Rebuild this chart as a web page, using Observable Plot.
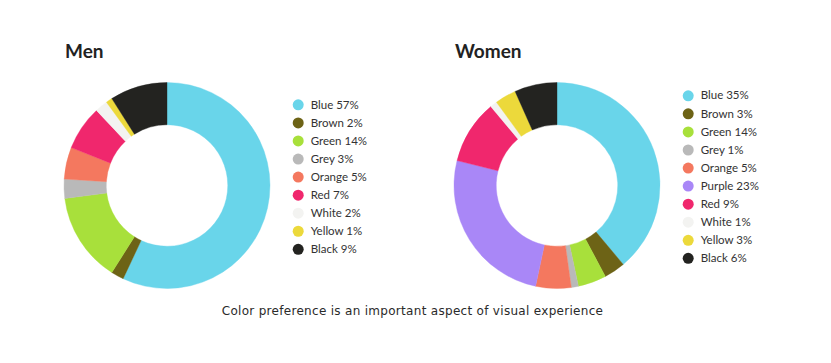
<!DOCTYPE html>
<html>
<head>
<meta charset="utf-8">
<script src="https://cdn.jsdelivr.net/npm/d3@7"></script>
<script src="https://cdn.jsdelivr.net/npm/@observablehq/plot@0.6"></script>
<style>
  html, body { margin: 0; padding: 0; background: #ffffff; }
  #wrap { position: relative; width: 831px; height: 363px; overflow: hidden; }
  .title { position: absolute; top: 41px; margin: 0; font: 700 19px Lato, sans-serif; line-height: 1; color: #222222; }
  .chart { position: absolute; top: 76px; }
  .caption { position: absolute; left: 0; width: 825px; top: 305px; text-align: center;
             font: 12px "DejaVu Sans", sans-serif; letter-spacing: 0.3px; line-height: 1; color: #2a2a2a; }
</style>
</head>
<body>
<div id="wrap">
  <div class="title" id="t1" style="left:65px"></div>
  <div class="title" id="t2" style="left:455px"></div>
  <div class="chart" id="c1" style="left:0px"></div>
  <div class="chart" id="c2" style="left:390px"></div>
  <div class="caption" id="cap"></div>
</div>
<script>
// ---- data ----
const colorNames = ["Blue", "Brown", "Green", "Grey", "Orange", "Purple", "Red", "White", "Yellow", "Black"];
const colorHex   = ["#69d5ea", "#6d6316", "#a8e03b", "#b9b9b9", "#f4785f", "#a987f7", "#f0276d", "#f3f3f1", "#ecd93b", "#232320"];

const menTitle = "Men";
const menCategories = ["Blue", "Brown", "Green", "Grey", "Orange", "Red", "White", "Yellow", "Black"];
const menValues     = [57, 2, 14, 3, 5, 7, 2, 1, 9];
const menLabels     = ["57%", "2%", "14%", "3%", "5%", "7%", "2%", "1%", "9%"];

const womenTitle = "Women";
const womenCategories = ["Blue", "Brown", "Green", "Grey", "Orange", "Purple", "Red", "White", "Yellow", "Black"];
// wedge sizes as drawn in the picture (the green wedge is drawn as ~4 although labelled 14%)
const womenValues     = [35, 3, 4, 1, 5, 23, 9, 1, 3, 6];
const womenLabels     = ["35%", "3%", "14%", "1%", "5%", "23%", "9%", "1%", "3%", "6%"];

const captionText = "Color preference is an important aspect of visual experience";

// ---- drawing ----
const innerRatio = 0.59;
const legendX = 1.269;
const legendCenter = 0.087;
const legendStep = 0.1762;

function donut(categories, values, labels) {
  const data = categories.map((name, i) => ({name, value: values[i], label: labels[i]}));
  const n = data.length;
  const colorOf = new Map(colorNames.map((c, i) => [c, colorHex[i]]));
  const wedgeMark = (index, scales) => {
    const cx = scales.x(0), cy = scales.y(0);
    const R = scales.x(1) - scales.x(0);
    const arcs = d3.pie().value(d => d.value).sort(null)(data);
    const arc = d3.arc().innerRadius(R * innerRatio).outerRadius(R);
    const col = d => (scales.color ? scales.color(d.data.name) : colorOf.get(d.data.name));
    const g = d3.create("svg:g").attr("transform", `translate(${cx},${cy})`);
    g.selectAll("path").data(arcs).join("path")
      .attr("d", arc)
      .attr("fill", col)
      .attr("stroke", col)
      .attr("stroke-width", 0.4);
    return g.node();
  };
  const ly = (d, i) => legendCenter + ((n - 1) / 2 - i) * legendStep;
  return Plot.plot({
    width: 390,
    height: 230,
    margin: 0,
    style: {background: "transparent", overflow: "visible"},
    x: {domain: [-1, 1], range: [64, 270], axis: null},
    y: {domain: [-1, 1], range: [212, 7], axis: null},
    color: {type: "ordinal", domain: colorNames, range: colorHex},
    marks: [
      wedgeMark,
      Plot.dot(data, {x: () => legendX, y: ly, r: 5.5, fill: {value: d => d.name, scale: "color"}, stroke: null}),
      Plot.text(data, {x: () => legendX, y: ly, dx: 12.5, text: d => `${d.name} ${d.label}`,
        textAnchor: "start", fontSize: 11.5, fontFamily: "Lato, sans-serif", fill: "#333333"})
    ]
  });
}

document.getElementById("t1").textContent = menTitle;
document.getElementById("t2").textContent = womenTitle;
document.getElementById("c1").appendChild(donut(menCategories, menValues, menLabels));
document.getElementById("c2").appendChild(donut(womenCategories, womenValues, womenLabels));
document.getElementById("cap").textContent = captionText;
</script>
</body>
</html>
